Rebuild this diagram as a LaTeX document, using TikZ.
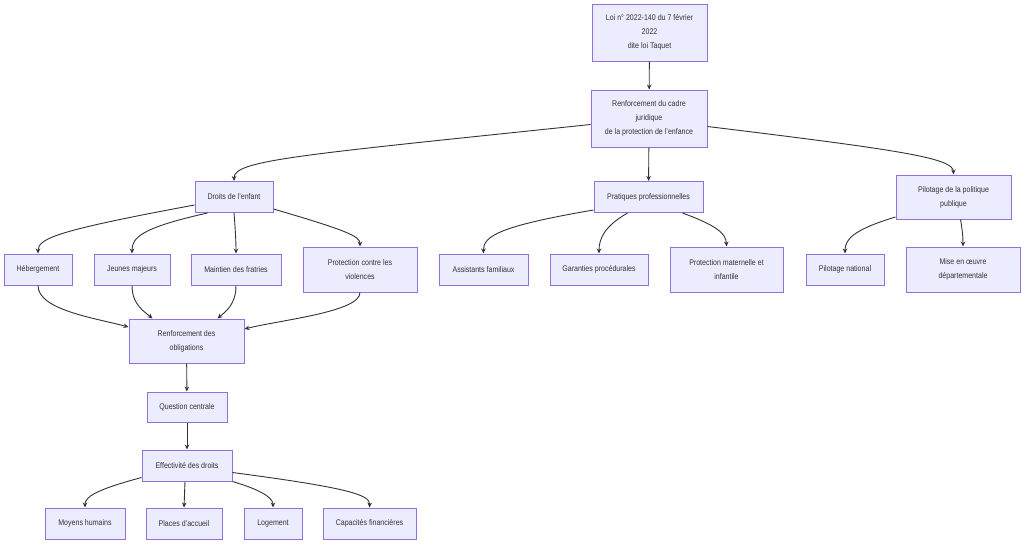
\documentclass[tikz,border=0pt]{standalone}
\usepackage{fontspec}
\setmainfont[FakeStretch=0.86]{Liberation Sans}
\usetikzlibrary{arrows.meta}
\definecolor{boxfill}{HTML}{ECECFF}
\definecolor{boxline}{HTML}{9370DB}
\definecolor{edgecol}{HTML}{333333}
\definecolor{txtcol}{HTML}{333333}
\tikzset{
  box/.style={draw=boxline, fill=boxfill, line width=1pt, inner sep=0pt, align=center,
    font=\fontsize{8.2}{14}\selectfont, text=txtcol},
  edge/.style={draw=edgecol, line width=0.9pt, -{Stealth[length=5pt,width=4.5pt]}}
}
\begin{document}
\begin{tikzpicture}[x=1pt,y=-1pt]
\useasboundingbox[fill=white] (0,0) rectangle (1024,544);
% nodes
\node[box, minimum width=115pt, minimum height=57pt] (loi) at (649.5,32.5) {Loi n° 2022-140 du 7 février\\2022\\dite loi Taquet};
\node[box, minimum width=116pt, minimum height=57pt] (cadre) at (649,118.5) {Renforcement du cadre\\juridique\\de la protection de l'enfance};
\node[box, minimum width=78pt, minimum height=31pt] (droits) at (234,197) {Droits de l'enfant};
\node[box, minimum width=109pt, minimum height=31pt] (prat) at (648.5,197) {Pratiques professionnelles};
\node[box, minimum width=115pt, minimum height=44pt] (pilot) at (953.5,197) {Pilotage de la politique\\publique};
\node[box, minimum width=68pt, minimum height=31pt] (heb) at (38,269.5) {Hébergement};
\node[box, minimum width=76pt, minimum height=31pt] (jeunes) at (132,269.5) {Jeunes majeurs};
\node[box, minimum width=90pt, minimum height=31pt] (fratr) at (236,269.5) {Maintien des fratries};
\node[box, minimum width=114pt, minimum height=45pt] (viol) at (360,269.5) {Protection contre les\\violences};
\node[box, minimum width=89pt, minimum height=31pt] (assist) at (483.5,269.5) {Assistants familiaux};
\node[box, minimum width=98pt, minimum height=31pt] (garant) at (599,269.5) {Garanties procédurales};
\node[box, minimum width=113pt, minimum height=45pt] (pmi) at (726.5,269.5) {Protection maternelle et\\infantile};
\node[box, minimum width=78pt, minimum height=31pt] (pnat) at (845,269.5) {Pilotage national};
\node[box, minimum width=114pt, minimum height=45pt] (mise) at (963,269.5) {Mise en œuvre\\départementale};
\node[box, minimum width=115pt, minimum height=44pt] (oblig) at (186.5,341) {Renforcement des\\obligations};
\node[box, minimum width=80pt, minimum height=30pt] (quest) at (187,407) {Question centrale};
\node[box, minimum width=90pt, minimum height=31pt] (effect) at (187,465.5) {Effectivité des droits};
\node[box, minimum width=80pt, minimum height=31pt] (moyens) at (85,523.5) {Moyens humains};
\node[box, minimum width=76pt, minimum height=31pt] (places) at (184,523.5) {Places d'accueil};
\node[box, minimum width=58pt, minimum height=31pt] (loge) at (273,523.5) {Logement};
\node[box, minimum width=93pt, minimum height=31pt] (capa) at (369.5,523.5) {Capacités financières};
% edges
\draw[edge] (loi) -- (cadre);
\draw[edge] ([yshift=-6pt]cadre.west) .. controls (300,155) and (234,160) .. (droits.north);
\draw[edge] (cadre) -- (prat);
\draw[edge] ([yshift=-8pt]cadre.east) .. controls (900,150) and (953,158) .. (pilot.north);
\draw[edge] ([yshift=-8pt]droits.west) .. controls (60,230) and (38,238) .. (heb.north);
\draw[edge] ([xshift=13pt]droits.south west) .. controls (140,228) and (132,238) .. (jeunes.north);
\draw[edge] (droits.south) .. controls (235,225) and (236,240) .. (fratr.north);
\draw[edge] ([yshift=-12pt]droits.east) .. controls (345,230) and (360,236) .. (viol.north);
\draw[edge] (heb.south) .. controls (38,310) and (95,318) .. ([yshift=14pt]oblig.west);
\draw[edge] (jeunes.south) .. controls (132,305) and (145,312) .. ([xshift=-34pt]oblig.north);
\draw[edge] (fratr.south) .. controls (236,305) and (225,312) .. ([xshift=31pt]oblig.north);
\draw[edge] (viol.south) .. controls (360,312) and (280,320) .. ([yshift=12pt]oblig.east);
\draw[edge] (oblig) -- (quest);
\draw[edge] (quest) -- (effect);
\draw[edge] ([yshift=-12pt]effect.west) .. controls (95,490) and (85,497) .. (moyens.north);
\draw[edge] ([xshift=-2pt]effect.south) -- (places.north);
\draw[edge] (effect.south east) .. controls (268,492) and (273,500) .. (loge.north);
\draw[edge] ([yshift=-7pt]effect.east) .. controls (350,488) and (370,495) .. (capa.north);
\draw[edge] ([yshift=-13pt]prat.west) .. controls (500,226) and (483,236) .. (assist.north);
\draw[edge] ([xshift=-21pt]prat.south) .. controls (605,226) and (599,238) .. (garant.north);
\draw[edge] ([xshift=34pt]prat.south) .. controls (718,226) and (726,234) .. (pmi.north);
\draw[edge] ([yshift=-20pt]pilot.west) .. controls (852,230) and (845,240) .. (pnat.north);
\draw[edge] ([xshift=7pt]pilot.south) .. controls (962,228) and (963,236) .. (mise.north);
\end{tikzpicture}
\end{document}
